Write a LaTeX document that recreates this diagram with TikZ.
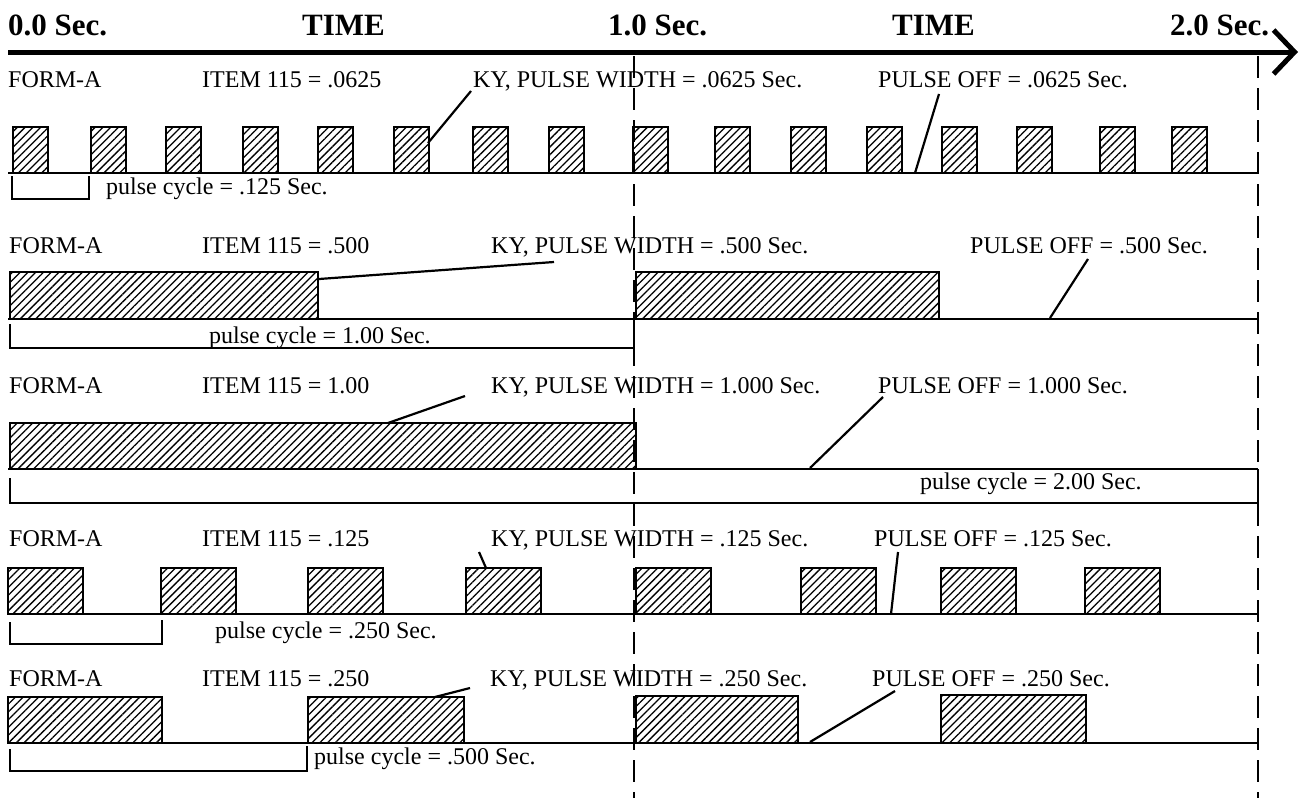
\documentclass[tikz,border=0pt]{standalone}
\usepackage{fontspec}
\setmainfont{Liberation Serif}
\usetikzlibrary{arrows.meta,patterns.meta}

\tikzset{
  lbl/.style={anchor=base west, inner sep=0pt, font=\fontsize{24}{28}\selectfont},
  hdr/.style={anchor=base west, inner sep=0pt, font=\fontsize{31}{36}\selectfont\bfseries},
  pulse/.style={draw, line width=2.8pt, pattern={Lines[angle=45,distance=5.5pt,line width=1.3pt]}},
  sigline/.style={line width=2.6pt},
  leader/.style={line width=2.2pt},
  timemark/.style={line width=2.2pt, dash pattern=on 22pt off 10pt}
}

\begin{document}
\begin{tikzpicture}[x=1pt,y=-1pt]
\useasboundingbox (0,0) rectangle (1300,798);

% time axis
\node[hdr] (t0) at (8,35) {0.0 Sec.};
\node[hdr] (time1) at (302,35) {TIME};
\node[hdr] (t1) at (608,35) {1.0 Sec.};
\node[hdr] (time2) at (892,35) {TIME};
\node[hdr] (t2) at (1170,35) {2.0 Sec.};
\coordinate (ax0) at (8,52);
\coordinate (ax1) at (1298,52);
\draw[line width=5pt,-{Straight Barb[length=21pt,width=44pt]}] (ax0) -- (ax1);

% row 1
\node[lbl] (forma1) at (8,87) {FORM-A};
\node[lbl] (item1) at (202,87) {ITEM 115 = .0625};
\node[lbl] (ky1) at (473,87) {KY, PULSE WIDTH = .0625 Sec.};
\node[lbl] (off1) at (878,87) {PULSE OFF = .0625 Sec.};
\foreach \x in {13,91,166,243,318,394,473,549,633,715,791,867,942,1017,1100,1172}
  \draw[pulse] (\x,127) rectangle ++(35,46);
\draw[sigline] (8,173) -- (1258,173);
\draw[sigline] (12,176) |- (89,199) -- (89,176);
\node[lbl] (cyc1) at (106,194) {pulse cycle = .125 Sec.};
\coordinate (ky1a) at (471,91);
\coordinate (ky1b) at (428,143);
\coordinate (off1a) at (939,94);
\coordinate (off1b) at (915,173);
\draw[leader] (ky1a) -- (ky1b);
\draw[leader] (off1a) -- (off1b);

% row 2
\node[lbl] (forma2) at (9,253) {FORM-A};
\node[lbl] (item2) at (202,253) {ITEM 115 = .500};
\node[lbl] (ky2) at (491,253) {KY, PULSE WIDTH = .500 Sec.};
\node[lbl] (off2) at (970,253) {PULSE OFF = .500 Sec.};
\draw[pulse] (10,272) rectangle (318,319);
\draw[pulse] (636,272) rectangle (939,319);
\draw[sigline] (8,319) -- (1258,319);
\draw[sigline] (10,324) |- (634,348) -- (634,322);
\node[lbl] (cyc2) at (209,343) {pulse cycle = 1.00 Sec.};
\coordinate (ky2a) at (554,262);
\coordinate (ky2b) at (319,279);
\coordinate (off2a) at (1088,259);
\coordinate (off2b) at (1050,318);
\draw[leader] (ky2a) -- (ky2b);
\draw[leader] (off2a) -- (off2b);

% row 3
\node[lbl] (forma3) at (9,393) {FORM-A};
\node[lbl] (item3) at (202,393) {ITEM 115 = 1.00};
\node[lbl] (ky3) at (491,393) {KY, PULSE WIDTH = 1.000 Sec.};
\node[lbl] (off3) at (878,393) {PULSE OFF = 1.000 Sec.};
\draw[pulse] (10,423) rectangle (636,469);
\draw[sigline] (8,469) -- (1258,469);
\draw[sigline] (10,478) |- (1258,503) -- (1258,469);
\node[lbl] (cyc3) at (920,489) {pulse cycle = 2.00 Sec.};
\coordinate (ky3a) at (465,396);
\coordinate (ky3b) at (388,423);
\coordinate (off3a) at (883,397);
\coordinate (off3b) at (810,468);
\draw[leader] (ky3a) -- (ky3b);
\draw[leader] (off3a) -- (off3b);

% row 4
\node[lbl] (forma4) at (9,546) {FORM-A};
\node[lbl] (item4) at (202,546) {ITEM 115 = .125};
\node[lbl] (ky4) at (491,546) {KY, PULSE WIDTH = .125 Sec.};
\node[lbl] (off4) at (874,546) {PULSE OFF = .125 Sec.};
\foreach \x in {8,161,308,466,636,801,941,1085}
  \draw[pulse] (\x,568) rectangle ++(75,46);
\draw[sigline] (8,614) -- (1258,614);
\draw[sigline] (10,622) |- (162,644) -- (162,620);
\node[lbl] (cyc4) at (215,638) {pulse cycle = .250 Sec.};
\coordinate (ky4a) at (479,552);
\coordinate (ky4b) at (486,568);
\coordinate (off4a) at (898,552);
\coordinate (off4b) at (891,614);
\draw[leader] (ky4a) -- (ky4b);
\draw[leader] (off4a) -- (off4b);

% row 5
\node[lbl] (forma5) at (9,686) {FORM-A};
\node[lbl] (item5) at (202,686) {ITEM 115 = .250};
\node[lbl] (ky5) at (490,686) {KY, PULSE WIDTH = .250 Sec.};
\node[lbl] (off5) at (872,686) {PULSE OFF = .250 Sec.};
\draw[pulse] (8,697) rectangle (162,743);
\draw[pulse] (308,697) rectangle (464,743);
\draw[pulse] (636,696) rectangle (798,743);
\draw[pulse] (941,695) rectangle (1086,743);
\draw[sigline] (8,743) -- (1258,743);
\draw[sigline] (10,749) |- (307,771) -- (307,746);
\node[lbl] (cyc5) at (314,764) {pulse cycle = .500 Sec.};
\coordinate (ky5a) at (470,688);
\coordinate (ky5b) at (435,697);
\coordinate (off5a) at (895,691);
\coordinate (off5b) at (810,742);
\draw[leader] (ky5a) -- (ky5b);
\draw[leader] (off5a) -- (off5b);

% 1.0 and 2.0 second marks
\coordinate (m1a) at (634,56);
\coordinate (m1b) at (634,798);
\coordinate (m2a) at (1258,56);
\coordinate (m2b) at (1258,798);
\draw[timemark] (m1a) -- (m1b);
\draw[timemark] (m2a) -- (m2b);
\end{tikzpicture}
\end{document}
